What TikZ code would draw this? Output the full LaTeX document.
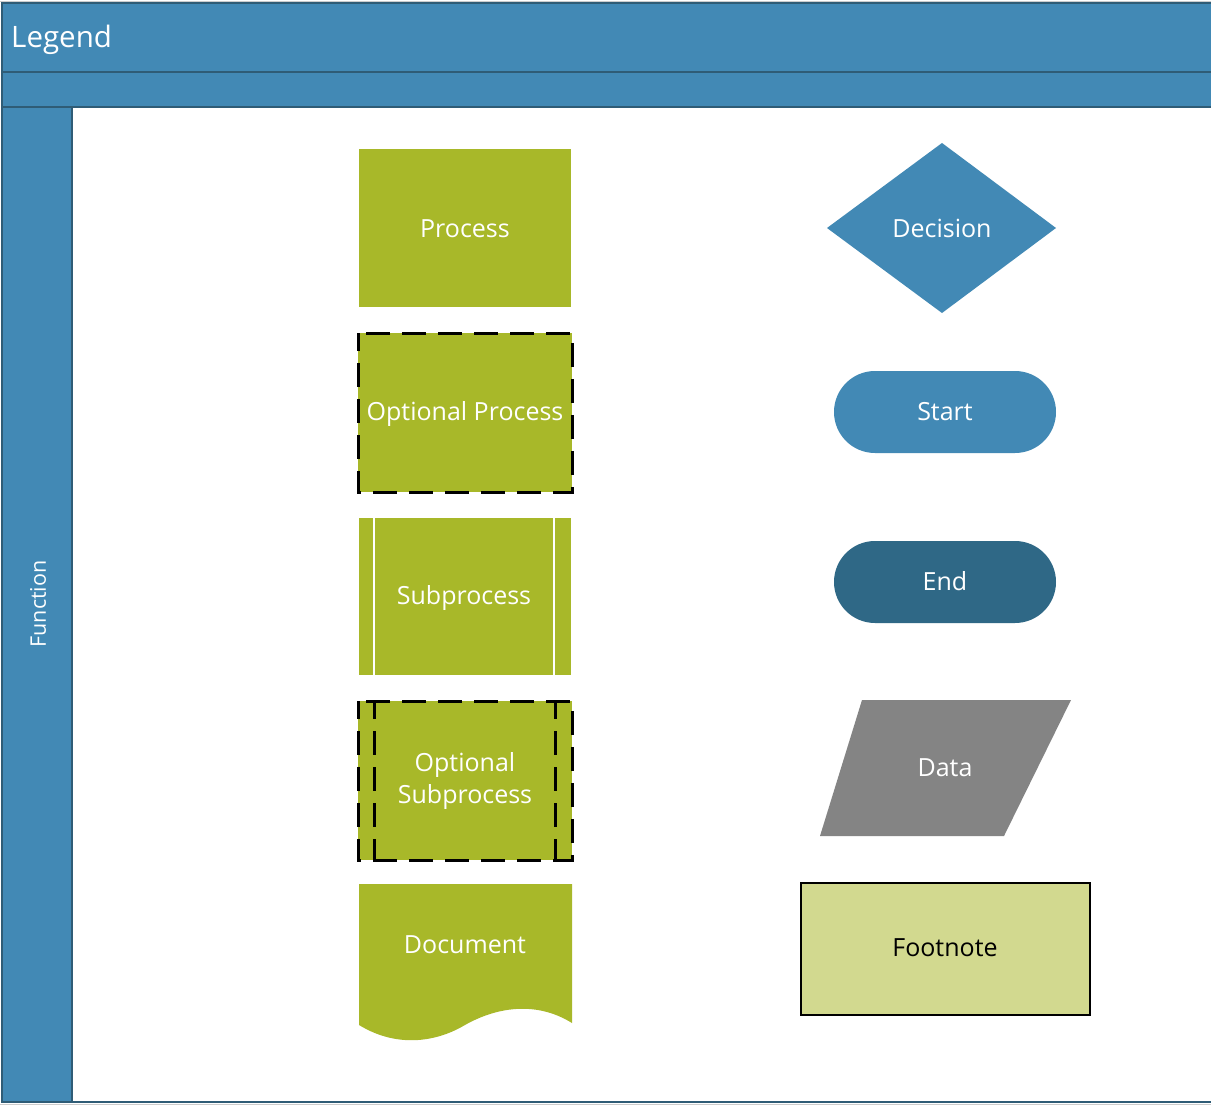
\documentclass[tikz,border=0pt]{standalone}
\usepackage{fontspec}
\setmainfont{Open Sans}
\begin{document}
\begin{tikzpicture}[x=1pt,y=-1pt,
  bandline/.style={draw=bandedge,line width=1.6pt},
  lbl/.style={text=white,font=\fontsize{25}{32}\selectfont,align=center,inner sep=0pt},
  greenbox/.style={fill=procgreen},
  dashbox/.style={draw=black,line width=3pt,dash pattern=on 24pt off 12pt,dash phase=6pt}]
\definecolor{bandblue}{HTML}{4289B5}
\definecolor{bandedge}{HTML}{2F5C76}
\definecolor{procgreen}{HTML}{A8B829}
\definecolor{enddark}{HTML}{2F6886}
\definecolor{datagray}{HTML}{848484}
\definecolor{footfill}{HTML}{D2D98F}
\useasboundingbox (0,0) rectangle (1211,1105);
\fill[white] (0,0) rectangle (1211,1105);
\draw[gray!40,line width=1pt] (0,1.5) -- (1211,1.5);
\draw[gray!40,line width=1pt] (0,1104) -- (1211,1104);
% bands
\fill[bandblue] (2,3) rectangle (1213,107);
\fill[bandblue] (2,107) rectangle (72,1102);
\draw[bandline] (1213,3) -- (2,3) -- (2,1102) -- (1213,1102);
\draw[bandline] (2,72) -- (1213,72);
\draw[bandline] (2,107) -- (1213,107);
\draw[bandline] (72,107) -- (72,1102);
\node[text=white,font=\fontsize{29.5}{34}\selectfont,anchor=west,inner sep=0pt] (legend) at (11,40) {Legend};
\node[text=white,font=\fontsize{21.5}{26}\selectfont,rotate=90,inner sep=0pt] (function) at (38,604) {Function};
% Process
\fill[greenbox] (359,149) rectangle (571,307);
\node[lbl] (process) at (465,229) {Process};
% Optional Process
\fill[greenbox] (358,333) rectangle (572,492);
\draw[dashbox] (358,333) rectangle (572,492);
\node[lbl] (optproc) at (465,414) {Optional Process};
% Subprocess
\fill[greenbox] (359,518) rectangle (571,675);
\draw[white,line width=1.5pt] (374,518) -- (374,675);
\draw[white,line width=1.5pt] (554,518) -- (554,675);
\node[lbl] (subproc) at (464,598) {Subprocess};
% Optional Subprocess
\fill[greenbox] (358,701) rectangle (572,860);
\draw[dashbox] (358,701) rectangle (572,860);
\draw[dashbox] (374.5,701) -- (374.5,860);
\draw[dashbox] (555,701) -- (555,860);
\node[lbl] (optsub) at (465,781) {Optional\\Subprocess};
% Document
\fill[greenbox] (359,884) -- (572,884) -- (572,1023)
  .. controls (535,1000) and (495,1008) .. (465,1025)
  .. controls (440,1040) and (400,1050) .. (359,1025) -- cycle;
\node[lbl] (document) at (465,945) {Document};
% Decision
\fill[bandblue] (942,143) -- (1056,228) -- (942,313) -- (827,228) -- cycle;
\node[lbl] (decision) at (942,228) {Decision};
% Start
\fill[bandblue,rounded corners=41pt] (834,371) rectangle (1056,453);
\node[lbl] (start) at (945,412) {Start};
% End
\fill[enddark,rounded corners=41pt] (834,541) rectangle (1056,623);
\node[lbl] (end) at (945,581) {End};
% Data
\fill[datagray] (862,700) -- (1071,700) -- (1004,836) -- (820,836) -- cycle;
\node[lbl] (data) at (945,768) {Data};
% Footnote
\draw[fill=footfill,draw=black,line width=1.5pt] (801,883) rectangle (1090,1015);
\node[lbl,text=black] (footnote) at (945,948) {Footnote};
\end{tikzpicture}
\end{document}
